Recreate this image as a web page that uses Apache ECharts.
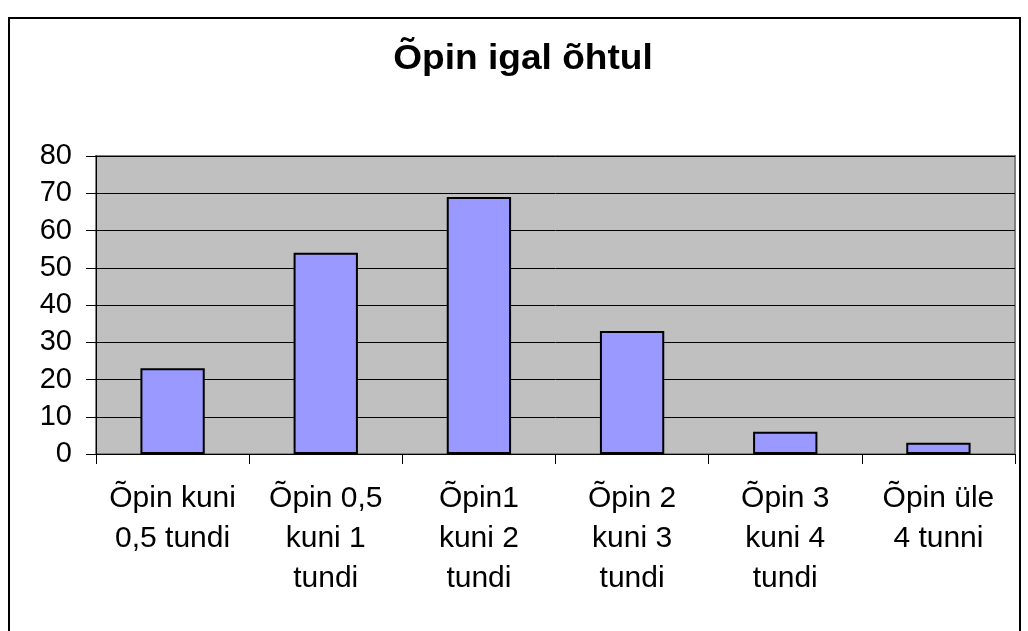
<!DOCTYPE html>
<html>
<head>
<meta charset="utf-8">
<script src="https://cdn.jsdelivr.net/npm/echarts@6/dist/echarts.min.js"></script>
<style>
html,body{margin:0;padding:0;background:#fff;}
#frame{position:absolute;left:8px;top:17px;width:1013px;height:640px;border:2px solid #000;box-sizing:border-box;}
#chart{position:absolute;left:0;top:0;width:1028px;height:631px;}
</style>
</head>
<body>
<div id="frame"></div>
<div id="chart"></div>
<script>
const title = "Õpin igal õhtul";
const categories = ["Õpin kuni\n0,5 tundi", "Õpin 0,5\nkuni 1\ntundi", "Õpin1\nkuni 2\ntundi", "Õpin 2\nkuni 3\ntundi", "Õpin 3\nkuni 4\ntundi", "Õpin üle\n4 tunni"];
const values = [23, 54, 69, 33, 6, 3];
const yTicks = { min: 0, max: 80, interval: 10 };

const chart = echarts.init(document.getElementById('chart'));
chart.setOption({
  animation: false,
  graphic: [{
    type: 'text',
    x: 523,
    y: 59,
    scaleX: 1.06,
    style: {
      text: title,
      align: 'center',
      verticalAlign: 'middle',
      fontFamily: 'Liberation Sans',
      fontSize: 35,
      fontWeight: 'bold',
      fill: '#000'
    }
  }],
  grid: { left: 96, right: 13, top: 156, bottom: 177, show: true, backgroundColor: '#C0C0C0', borderColor: '#808080', borderWidth: 2 },
  xAxis: {
    type: 'category',
    data: categories,
    axisLine: { show: true, lineStyle: { color: '#000', width: 1 } },
    axisTick: { show: true, alignWithLabel: false, length: 10, lineStyle: { color: '#000' } },
    axisLabel: { fontFamily: 'Liberation Sans', fontSize: 30, color: '#000', lineHeight: 40, margin: 25, interval: 0 }
  },
  yAxis: {
    type: 'value',
    min: yTicks.min, max: yTicks.max, interval: yTicks.interval,
    axisLine: { show: true, lineStyle: { color: '#000', width: 1 } },
    axisTick: { show: true, length: 10, lineStyle: { color: '#000' } },
    axisLabel: { fontFamily: 'Liberation Sans', fontSize: 29, color: '#000', margin: 24 },
    splitLine: { show: true, lineStyle: { color: '#000', width: 1 } }
  },
  series: [{
    type: 'bar',
    data: values,
    barCategoryGap: '58%',
    itemStyle: { color: '#9999FF', borderColor: '#000', borderWidth: 2 }
  }]
});
</script>
</body>
</html>
